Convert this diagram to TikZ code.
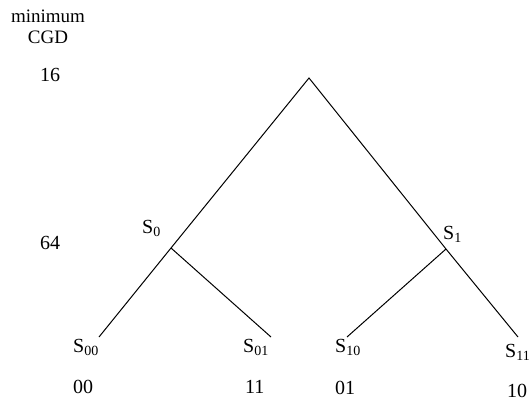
\documentclass[tikz,border=0pt]{standalone}
\usepackage{fontspec}
\setmainfont{Liberation Serif}
\newcommand{\st}[2]{#1{\fontsize{14}{14}\selectfont\raisebox{-3.5pt}{#2}}}
\begin{document}
\begin{tikzpicture}[x=1pt,y=-1pt,
  lbl/.style={inner sep=0pt,anchor=base west,font=\fontsize{20}{22}\selectfont},
  clbl/.style={inner sep=0pt,anchor=base,font=\fontsize{20}{22}\selectfont},
  edge/.style={line width=1pt}]
\useasboundingbox (0,0) rectangle (529,401);
% tree points
\coordinate (top) at (309,78);
\coordinate (j0) at (171,248);
\coordinate (j1) at (446,249);
\coordinate (e00) at (99,337);
\coordinate (e01) at (271,337);
\coordinate (e10) at (347,337);
\coordinate (e11) at (518,337);
\draw[edge] (e00) -- (j0) -- (top) -- (j1) -- (e11);
\draw[edge] (j0) -- (e01);
\draw[edge] (j1) -- (e10);
% left labels
\node[clbl, font=\fontsize{19}{21}\selectfont] (minl) at (48,23) {minimum};
\node[clbl, font=\fontsize{19}{21}\selectfont] (cgd) at (48,44) {CGD};
\node[clbl] (l16) at (50,82) {16};
\node[clbl] (l64) at (50,249) {64};
% state labels
\node[lbl] (s0) at (142,233) {\st{S}{0}};
\node[lbl] (s1) at (443,239) {\st{S}{1}};
\node[lbl] (s00) at (73,352) {\st{S}{00}};
\node[lbl] (s01) at (243,352) {\st{S}{01}};
\node[lbl] (s10) at (335,352) {\st{S}{10}};
\node[lbl] (s11) at (505,357) {\st{S}{11}};
% codes
\node[lbl] (c00) at (73,393) {00};
\node[lbl] (c11) at (245,393) {11};
\node[lbl] (c01) at (335,394) {01};
\node[lbl] (c10) at (507,397) {10};
\end{tikzpicture}
\end{document}
